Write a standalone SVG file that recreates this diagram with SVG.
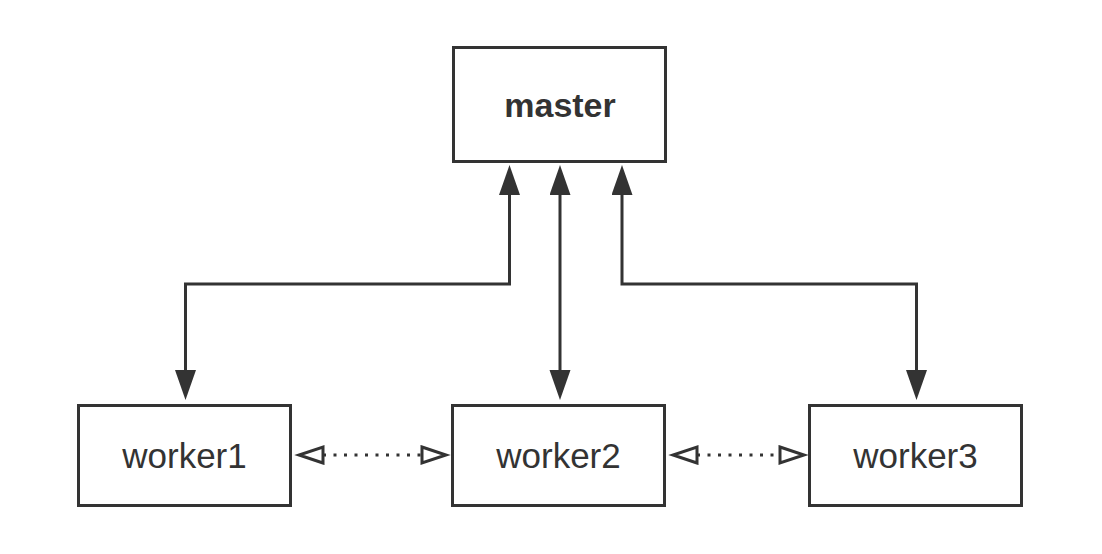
<svg xmlns="http://www.w3.org/2000/svg" width="1102" height="554" viewBox="0 0 1102 554">
<style>
.box{fill:#fff;stroke:#333;stroke-width:3}
.lbl{font-family:"Liberation Sans",Arial,sans-serif;fill:#333;text-anchor:middle}
.conn{fill:none;stroke:#333;stroke-width:3}
.dot{fill:none;stroke:#333;stroke-width:3;stroke-dasharray:3 7.5}
</style>
<defs>
<marker id="solid" markerUnits="userSpaceOnUse" markerWidth="31" markerHeight="22" refX="0" refY="10.5" orient="auto-start-reverse" viewBox="0 0 31 22">
<path d="M0,0 L30,10.5 L0,21 Z" fill="#333"/>
</marker>
<marker id="open" markerUnits="userSpaceOnUse" markerWidth="34" markerHeight="24" refX="2" refY="10" orient="auto-start-reverse" viewBox="0 0 34 24">
<path d="M2,2 L26,10 L2,18 Z" fill="#fff" stroke="#333" stroke-width="3" stroke-linejoin="miter"/>
</marker>
</defs>
<rect width="1102" height="554" fill="#fff"/>
<g id="connectors">
<path class="conn" d="M185.5,370 V284 H509.5 V195" marker-start="url(#solid)" marker-end="url(#solid)"/>
<path class="conn" d="M560,370 V195" marker-start="url(#solid)" marker-end="url(#solid)"/>
<path class="conn" d="M916.5,370 V284 H622 V195" marker-start="url(#solid)" marker-end="url(#solid)"/>
<path class="dot" d="M323,455 H422" marker-start="url(#open)" marker-end="url(#open)"/>
<path class="dot" d="M697,455 H780" marker-start="url(#open)" marker-end="url(#open)"/>
</g>
<g id="master">
<rect class="box" x="453.5" y="47.5" width="212" height="114"/>
<text class="lbl" x="560" y="117" font-size="34" font-weight="bold">master</text>
</g>
<g id="worker1">
<rect class="box" x="78.5" y="405.5" width="212" height="100"/>
<text class="lbl" x="184.5" y="468" font-size="35">worker1</text>
</g>
<g id="worker2">
<rect class="box" x="452.5" y="405.5" width="212" height="100"/>
<text class="lbl" x="558.5" y="468" font-size="35">worker2</text>
</g>
<g id="worker3">
<rect class="box" x="809.5" y="405.5" width="212" height="100"/>
<text class="lbl" x="915.5" y="468" font-size="35">worker3</text>
</g>
</svg>
